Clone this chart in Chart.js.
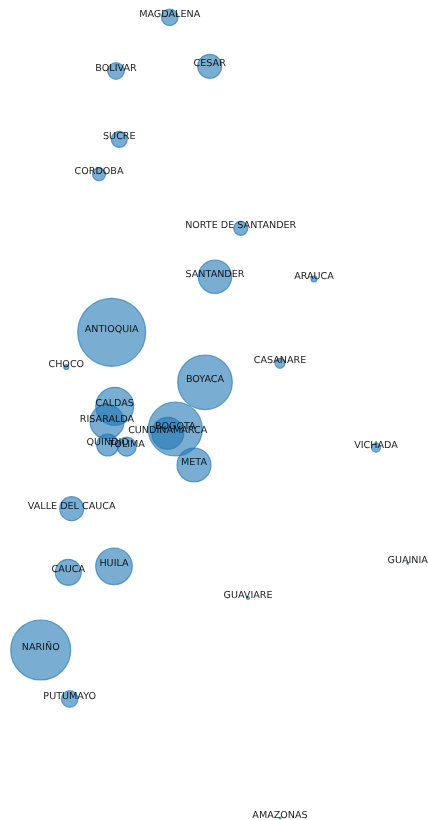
<!DOCTYPE html>
<html>
<head>
<meta charset="utf-8">
<script src="https://cdn.jsdelivr.net/npm/chart.js@4"></script>
<style>
html,body{margin:0;padding:0;background:#fff}
canvas{display:block;filter:blur(0.35px)}
</style>
</head>
<body>
<canvas id="c" width="428" height="820"></canvas>
<script>
const names = ["MAGDALENA","CESAR","BOLIVAR","SUCRE","CORDOBA","NORTE DE SANTANDER","SANTANDER","ARAUCA","ANTIOQUIA","CHOCO","BOYACA","CASANARE","CALDAS","RISARALDA","BOGOTA","CUNDINAMARCA","QUINDIO","TOLIMA","META","VICHADA","VALLE DEL CAUCA","GUAINIA","CAUCA","HUILA","GUAVIARE","NARIÑO","PUTUMAYO","AMAZONAS"];
const xs = [169.7,209.7,116,119.3,99,240.7,215,314,111.7,66.3,205,280,114.7,107,175.3,167.7,107.7,126.7,194,376,71.7,407.7,68.3,114,248,40.7,69.7,280];
const ys = [17.3,66.3,71,139.3,174.3,228.3,276.7,279,332.3,367,382.3,363.3,406.3,421.7,429,433.3,445,446.7,465,447.7,508.7,563.3,572.3,566.3,598,650,699,818];
const radii = [8.3,12,8.3,8,6.5,7,16.7,3,34,2.5,27.3,5,19,17,27,16,11,9.5,17,4.5,12,1,13,18.3,1.5,30,8.3,1];

const labelPlugin = {
  id: "labels",
  afterDatasetsDraw(chart) {
    const {ctx, scales} = chart;
    ctx.save();
    ctx.font = "9.6px 'DejaVu Sans'";
    ctx.textRendering = "geometricPrecision";
    ctx.fillStyle = "rgba(0,0,0,0.88)";
    ctx.textAlign = "center";
    ctx.textBaseline = "middle";
    names.forEach((n, i) => {
      ctx.fillText(n, scales.x.getPixelForValue(xs[i]), scales.y.getPixelForValue(ys[i]) - 2.4);
    });
    ctx.restore();
  }
};

new Chart(document.getElementById("c"), {
  type: "bubble",
  data: {
    datasets: [{
      data: names.map((n, i) => ({x: xs[i], y: ys[i], r: radii[i]})),
      backgroundColor: "rgba(31,119,180,0.6)",
      borderColor: "rgba(31,119,180,0.65)",
      borderWidth: 1.2,
      clip: false
    }]
  },
  options: {
    responsive: false,
    animation: false,
    layout: {padding: 0, autoPadding: false},
    plugins: {legend: {display: false}, tooltip: {enabled: false}},
    scales: {
      x: {type: "linear", display: false, min: 0, max: 428},
      y: {type: "linear", display: false, min: 0, max: 820, reverse: true}
    }
  },
  plugins: [labelPlugin]
});
</script>
</body>
</html>
